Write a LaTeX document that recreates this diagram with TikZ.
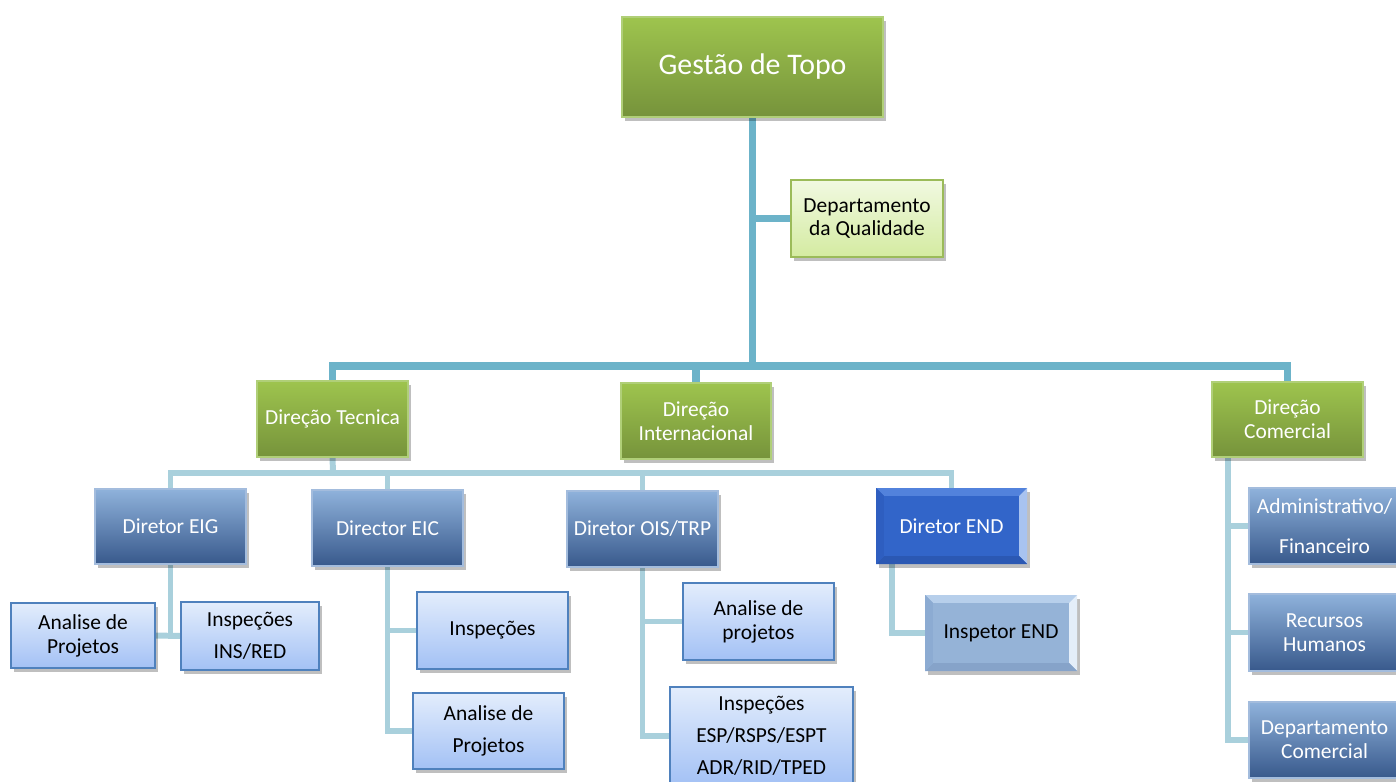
\documentclass[tikz,border=0pt]{standalone}
\usepackage{fontspec}
\setmainfont{Carlito}
\usetikzlibrary{shadows,calc}
\pgfdeclarelayer{bg}
\pgfsetlayers{bg,main}
\definecolor{gtop}{HTML}{9EC44E}
\definecolor{gbot}{HTML}{76933B}
\definecolor{gline}{HTML}{B0CF78}
\definecolor{qtop}{HTML}{F1F9E1}
\definecolor{qbot}{HTML}{D4EBA1}
\definecolor{qline}{HTML}{9BBB59}
\definecolor{dtop}{HTML}{8FB2DB}
\definecolor{dbot}{HTML}{38598C}
\definecolor{dline}{HTML}{A3BCDD}
\definecolor{ltop}{HTML}{E3EDFC}
\definecolor{lbot}{HTML}{A3C1F5}
\definecolor{lline}{HTML}{4F81BD}
\definecolor{trunkc}{HTML}{6CB3C9}
\definecolor{branchc}{HTML}{A9D0DC}
\definecolor{endmain}{HTML}{3265C9}
\definecolor{endtop}{HTML}{5282DC}
\definecolor{endright}{HTML}{A8C3F0}
\definecolor{endbot}{HTML}{2B58B3}
\definecolor{endleft}{HTML}{2E5EC0}
\definecolor{insmain}{HTML}{95B3D7}
\definecolor{instop}{HTML}{B7CFEB}
\definecolor{insright}{HTML}{E4EEF9}
\definecolor{insbot}{HTML}{86A3C9}
\definecolor{insleft}{HTML}{8CABD2}
\tikzset{
  box/.style={inner sep=0pt, outer sep=0pt, align=center,
    drop shadow={shadow xshift=1.5pt, shadow yshift=-2pt, opacity=0.25, fill=black}},
  tight/.style={font=\fontsize{12.2}{13.6}\selectfont},
  wide/.style={font=\fontsize{12.2}{18.2}\selectfont},
  gbox/.style={box, tight, top color=gtop, bottom color=gbot, draw=gline, line width=0.6pt, text=white},
  qbox/.style={box, tight, top color=qtop, bottom color=qbot, draw=qline, line width=1pt, text=black},
  dbox/.style={box, tight, top color=dtop, bottom color=dbot, draw=dline, line width=0.6pt, text=white},
  lbox/.style={box, top color=ltop, bottom color=lbot, draw=lline, line width=1.3pt, text=black},
  ebox/.style={box, tight, fill=endmain, text=white},
  ibox/.style={box, tight, fill=insmain, text=black},
  trunk/.style={draw=trunkc, line width=4pt},
  branch/.style={draw=branchc, line width=3.4pt},
}
\newcommand\pbox[7]{%
  \pgfmathsetmacro\pbW{(#5-#3)*0.02}%
  \pgfmathsetmacro\pbH{(#6-#4)*0.02}%
  \pgfmathsetmacro\pbX{(#3+#5)/2}%
  \pgfmathsetmacro\pbY{(#4+#6)/2}%
  \node[#2, minimum width=\pbW cm, minimum height=\pbH cm] (#1) at (\pbX,\pbY) {#7};}
\newcommand\bevel[6]{%
  \fill[#3] (#1.north west) -- (#1.north east) -- ([shift={(-#2,-#2)}]#1.north east) -- ([shift={(#2,-#2)}]#1.north west) -- cycle;
  \fill[#4] (#1.north east) -- (#1.south east) -- ([shift={(-#2,#2)}]#1.south east) -- ([shift={(-#2,-#2)}]#1.north east) -- cycle;
  \fill[#5] (#1.south west) -- (#1.south east) -- ([shift={(-#2,#2)}]#1.south east) -- ([shift={(#2,#2)}]#1.south west) -- cycle;
  \fill[#6] (#1.north west) -- (#1.south west) -- ([shift={(#2,#2)}]#1.south west) -- ([shift={(#2,-#2)}]#1.north west) -- cycle;}
\begin{document}
\begin{tikzpicture}[x=0.02cm, y=-0.02cm]
\useasboundingbox (0,0) rectangle (1396,781);
% level 0 / 1
\pbox{top}{gbox, font=\fontsize{17}{19}\selectfont}{622}{17}{883}{117}{Gestão de Topo}
\pbox{qual}{qbox}{791}{180}{943}{257}{Departamento\\da Qualidade}
\pbox{tec}{gbox}{257}{381}{408}{457}{Direção Tecnica}
\pbox{int}{gbox}{621}{383}{771}{459}{Direção\\Internacional}
\pbox{com}{gbox}{1212}{382}{1363}{457}{Direção\\Comercial}
% directors
\pbox{eig}{dbox}{95}{489}{246}{564}{Diretor EIG}
\pbox{eic}{dbox}{312}{490}{463}{566}{Director EIC}
\pbox{ois}{dbox}{567}{491}{718}{567}{Diretor OIS/TRP}
\pbox{dend}{ebox}{876}{488}{1027}{564}{}
\bevel{dend}{4.5pt}{endtop}{endright}{endbot}{endleft}
\node[tight, text=white] (dendtxt) at (dend.center) {Diretor END};
% leaves
\pbox{apeig}{lbox, tight}{11}{603}{155}{668}{Analise de\\Projetos}
\pbox{inseig}{lbox, wide}{181}{602}{319}{670}{Inspeções\\INS/RED}
\pbox{inseic}{lbox, tight}{417}{592}{568}{669}{Inspeções}
\pbox{apeic}{lbox, wide}{413}{693}{564}{769}{Analise de\\Projetos}
\pbox{apois}{lbox, tight}{683}{583}{834}{660}{Analise de\\projetos}
\pbox{espois}{lbox, wide}{670}{687}{853}{785}{Inspeções\\ESP/RSPS/ESPT\\ADR/RID/TPED}
\pbox{insend}{ibox}{925}{595}{1077}{671}{}
\bevel{insend}{4.5pt}{instop}{insright}{insbot}{insleft}
\node[tight, text=black] (insendtxt) at (insend.center) {Inspetor END};
\pbox{adm}{dbox, font=\fontsize{12.2}{22.5}\selectfont}{1249}{488}{1400}{564}{Administrativo/\\Financeiro}
\pbox{rh}{dbox}{1249}{594}{1400}{671}{Recursos\\Humanos}
\pbox{dc}{dbox}{1249}{702}{1400}{778}{Departamento\\Comercial}
\coordinate (j1) at (752,366);
\coordinate (j2) at (333,473);
\begin{pgfonlayer}{bg}
\draw[trunk] (top.south) -- (top.south |- j1);
\draw[trunk] (top.south |- qual.west) -- (qual.west);
\draw[trunk] (tec.north) |- (j1) -| (com.north);
\draw[trunk] (int.north) -- (int.north |- j1);
\draw[branch] (tec.south) -- (j2);
\draw[branch] (eig.north) |- (j2) -| (dend.north);
\draw[branch] (eic.north) -- (eic.north |- j2);
\draw[branch] (ois.north) -- (ois.north |- j2);
\draw[branch] (eig.south) -- (eig.south |- apeig.east);
\draw[branch] (apeig.east) -- (inseig.west);
\draw[branch] (eic.south) |- (inseic.west);
\draw[branch] (eic.south) |- (apeic.west);
\draw[branch] (ois.south) |- (apois.west);
\draw[branch] (ois.south) |- (espois.west);
\draw[branch] ($(dend.south west)+(16,0)$) |- (insend.west);
\draw[branch] ($(com.south west)+(16,0)$) |- (adm.west);
\draw[branch] ($(com.south west)+(16,0)$) |- (rh.west);
\draw[branch] ($(com.south west)+(16,0)$) |- (dc.west);
\end{pgfonlayer}
\end{tikzpicture}
\end{document}
